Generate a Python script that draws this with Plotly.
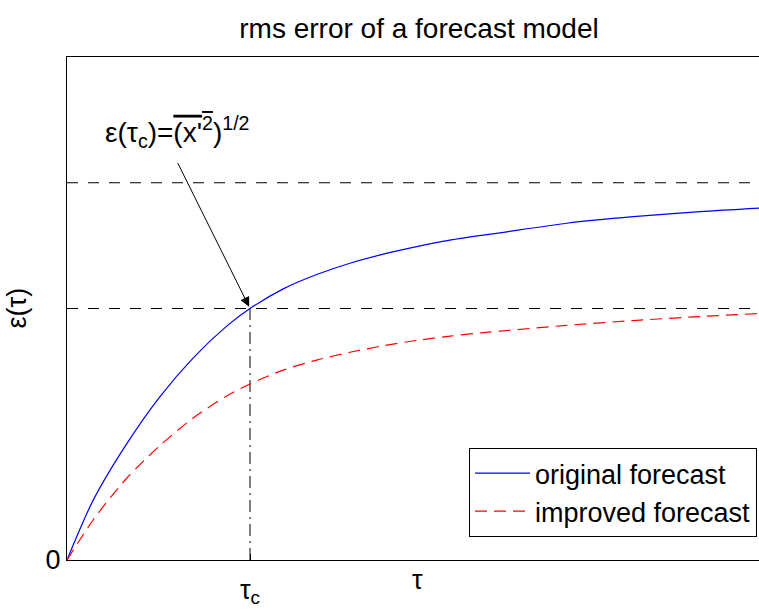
import plotly.graph_objects as go

# ---- data ----
tau = [0, 0.375, 0.85, 1.325, 1.799, 2.275, 2.607, 3.081, 3.557, 4.031, 4.506,
       4.981, 5.456, 5.930, 6.168, 7.118, 8.067, 9.017, 9.858]
original_err = [0, 0.239, 0.462, 0.650, 0.804, 0.930, 1.000, 1.078, 1.135, 1.180, 1.216,
                1.246, 1.272, 1.292, 1.301, 1.339, 1.365, 1.385, 1.399]
improved_err = [0, 0.160, 0.325, 0.455, 0.565, 0.652, 0.700, 0.755, 0.795, 0.826, 0.852,
                0.873, 0.890, 0.904, 0.910, 0.933, 0.952, 0.968, 0.980]
tau_c = 2.607
ref_levels = [1.0, 1.5]
x_max = 9.858
y_max = 2.0
series_names = ["original forecast", "improved forecast"]

FONT = "Liberation Sans, Arial, Helvetica, sans-serif"
FS = 27

fig = go.Figure()

# reference horizontal dashed lines
for lev in ref_levels:
    fig.add_trace(go.Scatter(x=[0, x_max], y=[lev, lev], mode="lines",
                             line=dict(color="black", width=1, dash="11px,10px"),
                             showlegend=False, hoverinfo="skip"))
# vertical dash-dot line at tau_c
fig.add_trace(go.Scatter(x=[tau_c, tau_c], y=[0, ref_levels[0]], mode="lines",
                         line=dict(color="black", width=1, dash="12px,5px,2px,5px"),
                         showlegend=False, hoverinfo="skip"))

fig.add_trace(go.Scatter(x=tau, y=original_err, mode="lines", name=series_names[0],
                         line=dict(color="#0000ff", width=1.2, shape="spline",
                                   smoothing=0.8)))
fig.add_trace(go.Scatter(x=tau, y=improved_err, mode="lines", name=series_names[1],
                         line=dict(color="#ff0000", width=1.2, shape="spline",
                                   smoothing=0.8, dash="12px,7px")))

fig.update_layout(
    width=759, height=612,
    margin=dict(l=67, r=0, t=57, b=52),
    paper_bgcolor="white", plot_bgcolor="white",
    font=dict(family=FONT, size=FS, color="black"),
    title=dict(text="rms error of a forecast model", x=419/759, xanchor="center",
               y=1 - 28/612, yanchor="middle", font=dict(size=28)),
    showlegend=True,
    legend=dict(x=(469-67)/692, y=(560-448)/503, xanchor="left", yanchor="top",
                bgcolor="white", bordercolor="black", borderwidth=1,
                font=dict(size=FS), itemwidth=55, tracegroupgap=0),
    xaxis=dict(range=[0, x_max], showgrid=False, zeroline=False,
               showline=True, linecolor="black", linewidth=1.3, mirror=True,
               ticks="inside", ticklen=6, tickcolor="black",
               tickvals=[tau_c], ticktext=["τ<sub>c</sub>"],
               ticklabelstandoff=5, tickfont=dict(size=FS)),
    yaxis=dict(range=[0, y_max], showgrid=False, zeroline=False,
               showline=True, linecolor="black", linewidth=1.3, mirror=False,
               ticks="", tickvals=[0], ticktext=["0"], tickfont=dict(size=FS)),
)

# x label
fig.add_annotation(text="τ", x=5.0, xref="x", y=0, yref="paper",
                   yshift=-20, yanchor="middle", showarrow=False,
                   font=dict(size=FS))
# y label
fig.add_annotation(text="ε(τ)", x=0, xref="paper", xanchor="center", xshift=-51,
                   y=0.5, yref="paper", yanchor="middle",
                   textangle=-90, showarrow=False, font=dict(size=FS))
# equation text
fig.add_annotation(text="ε(τ<sub>c</sub>)=<span style='text-decoration:overline'>(x'<sup>2</sup></span>)<sup>1/2</sup>",
                   x=1.567, y=1.70, xref="x", yref="y", showarrow=False,
                   font=dict(size=28))
# arrow
fig.add_annotation(text="", x=tau_c, y=ref_levels[0], xref="x", yref="y",
                   ax=-73, ay=-147, showarrow=True, arrowhead=2, arrowsize=1.9,
                   arrowwidth=1, arrowcolor="black", standoff=2)

fig.write_html("out.html")
